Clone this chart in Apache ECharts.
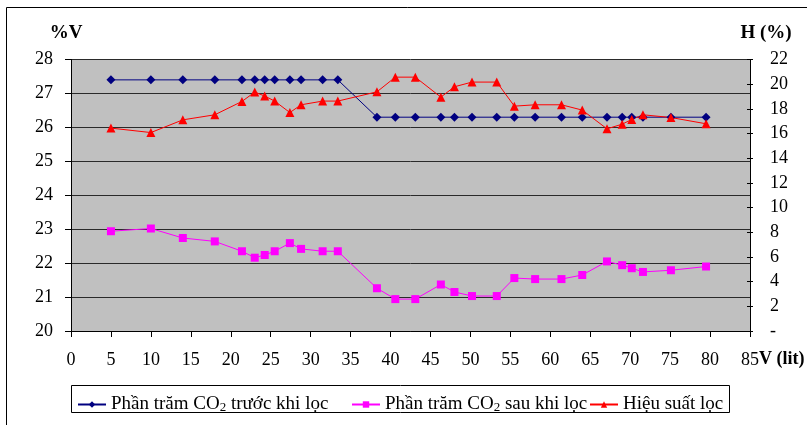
<!DOCTYPE html>
<html>
<head>
<meta charset="utf-8">
<script src="https://cdn.jsdelivr.net/npm/echarts@6/dist/echarts.min.js"></script>
<style>
html,body{margin:0;padding:0;background:#fff;}
#c{width:807px;height:425px;}
</style>
</head>
<body>
<div id="c"></div>
<script>
// Volume (lit)
var volumes = [5, 10, 14, 18, 21.4, 23, 24.25, 25.5, 27.4, 28.8, 31.5, 33.4, 38.3, 40.6, 43.1, 46.3, 48, 50.2, 53.3, 55.5, 58.1, 61.4, 64, 67.1, 69, 70.2, 71.6, 75.1, 79.5];
// % CO2 before filtering
var co2Before = [27.4, 27.4, 27.4, 27.4, 27.4, 27.4, 27.4, 27.4, 27.4, 27.4, 27.4, 27.4, 26.3, 26.3, 26.3, 26.3, 26.3, 26.3, 26.3, 26.3, 26.3, 26.3, 26.3, 26.3, 26.3, 26.3, 26.3, 26.3, 26.3];
// % CO2 after filtering
var co2After = [22.94, 23.02, 22.74, 22.64, 22.35, 22.16, 22.24, 22.35, 22.59, 22.42, 22.35, 22.35, 21.26, 20.94, 20.94, 21.37, 21.15, 21.03, 21.03, 21.56, 21.53, 21.53, 21.65, 22.05, 21.94, 21.85, 21.74, 21.79, 21.9];
// Filter efficiency H (%)
var efficiency = [16.44, 16.08, 17.11, 17.52, 18.6, 19.36, 19.04, 18.63, 17.7, 18.33, 18.63, 18.63, 19.38, 20.57, 20.57, 18.95, 19.79, 20.17, 20.17, 18.22, 18.33, 18.33, 17.9, 16.38, 16.76, 17.14, 17.52, 17.3, 16.79];

var seriesNames = ['Phần trăm CO2 trước khi lọc', 'Phần trăm CO2 sau khi lọc', 'Hiệu suất lọc'];
var legendRich = {
  '0': '{a|Phần trăm CO}{s|2}{a| trước khi lọc}',
  '1': '{a|Phần trăm CO}{s|2}{a| sau khi lọc}',
  '2': '{a|Hiệu suất lọc}'
};

function pairs(xs, ys){ return xs.map(function(x,i){ return [x, ys[i]]; }); }

var FONT = '"Liberation Serif", "Times New Roman", serif';
var chart = echarts.init(document.getElementById('c'), null, {renderer:'canvas'});

var richStyle = {
  a: {fontFamily: FONT, fontSize: 19, color: '#000', lineHeight: 20},
  s: {fontFamily: FONT, fontSize: 13, color: '#000', lineHeight: 20, verticalAlign: 'bottom', padding: [6,0,0,0]}
};
function mkLegend(idx, left){
  return {
    data: [seriesNames[idx]], left: left, top: 395, padding: 0,
    itemWidth: 28, itemHeight: 8, itemGap: 5,
    formatter: function(){ return legendRich[String(idx)]; },
    textStyle: {rich: richStyle, fontFamily: FONT, fontSize: 19, color:'#000'},
    z: 10
  };
}

chart.setOption({
  animation: false,
  backgroundColor: '#fff',
  graphic: [
    {type:'rect', shape:{x:6.5, y:7.5, width:900, height:500}, style:{fill:'none', stroke:'#000', lineWidth:1}, z: 0, silent:true},
    {type:'rect', shape:{x:71.5, y:385.5, width:658, height:27}, style:{fill:'#fff', stroke:'#000', lineWidth:1}, z: 1, silent:true}
  ],
  grid: {left: 71, right: 57, top: 59.5, bottom: 94, show: true, backgroundColor: '#C0C0C0', borderWidth: 0, containLabel: false, outerBoundsMode: 'none'},
  legend: [mkLegend(0, 77), mkLegend(1, 351), mkLegend(2, 589)],
  xAxis: {
    type: 'value', min: 0, max: 85, interval: 5,
    name: 'V (lit)', nameLocation: 'end', nameGap: 9, nameMoveOverlap: false,
    nameTextStyle: {fontFamily: FONT, fontSize: 18, fontWeight: 'bold', color:'#000', verticalAlign: 'top', align:'left', padding: [19,0,0,0]},
    axisLine: {show: true, onZero: false, lineStyle: {color: '#000', width: 1}},
    axisTick: {show: true, length: 6, lineStyle: {color:'#000'}},
    axisLabel: {fontFamily: FONT, fontSize: 18, color: '#000', margin: 20},
    splitLine: {show: false}
  },
  yAxis: [
    {
      type: 'value', min: 20, max: 28, interval: 1, position: 'left',
      name: '%V', nameLocation: 'end', nameGap: 17, nameMoveOverlap: false,
      nameTextStyle: {fontFamily: FONT, fontSize: 19, fontWeight: 'bold', color:'#000', padding: [0,10,0,0]},
      axisLine: {show: true, lineStyle: {color: '#000', width: 1}},
      axisTick: {show: true, length: 6, lineStyle: {color:'#000'}},
      axisLabel: {fontFamily: FONT, fontSize: 18, color: '#000', margin: 18},
      splitLine: {show: true, lineStyle: {color: '#2a2a2a', width: 1}}
    },
    {
      type: 'value', min: 0, max: 22, interval: 2, position: 'right',
      name: 'H (%)', nameLocation: 'end', nameGap: 17, nameMoveOverlap: false,
      nameTextStyle: {fontFamily: FONT, fontSize: 19, fontWeight: 'bold', color:'#000', padding: [0,0,0,32]},
      axisLine: {show: true, lineStyle: {color: '#000', width: 1}},
      axisTick: {show: true, length: 3, lineStyle: {color:'#000'}},
      axisLabel: {fontFamily: FONT, fontSize: 18, color: '#000', margin: 20,
        formatter: function(v){ return v === 0 ? '-' : String(v); }},
      splitLine: {show: false}
    },
    {
      type: 'value', min: 0, max: 22, interval: 2, position: 'right',
      axisLine: {show: false},
      axisTick: {show: true, inside: true, length: 3, lineStyle: {color:'#000'}},
      axisLabel: {show: false},
      splitLine: {show: false}
    }
  ],
  series: [
    {
      name: seriesNames[0], type: 'line', yAxisIndex: 0,
      data: pairs(volumes, co2Before),
      symbol: 'diamond', symbolSize: 9,
      lineStyle: {color: '#000080', width: 1},
      itemStyle: {color: '#000080'}
    },
    {
      name: seriesNames[1], type: 'line', yAxisIndex: 0,
      data: pairs(volumes, co2After),
      symbol: 'rect', symbolSize: 8,
      lineStyle: {color: '#FF00FF', width: 1},
      itemStyle: {color: '#FF00FF'}
    },
    {
      name: seriesNames[2], type: 'line', yAxisIndex: 1,
      data: pairs(volumes, efficiency),
      symbol: 'triangle', symbolSize: 9,
      lineStyle: {color: '#FF0000', width: 1},
      itemStyle: {color: '#FF0000'}
    }
  ]
});
</script>
</body>
</html>
